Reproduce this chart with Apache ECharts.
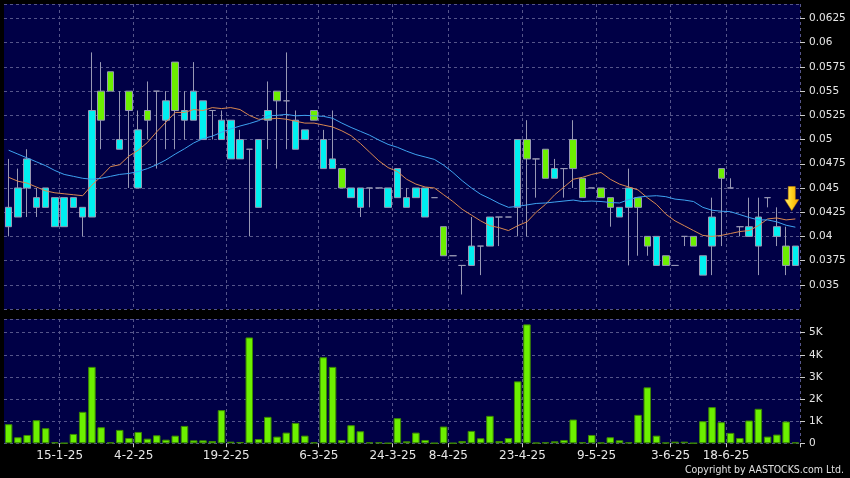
<!DOCTYPE html>
<html>
<head>
<meta charset="utf-8">
<script src="https://cdn.jsdelivr.net/npm/echarts/dist/echarts.min.js"></script>
<style>
html,body{margin:0;padding:0;background:#000;}
#chart{width:850px;height:478px;}
</style>
</head>
<body>
<div id="chart"></div>
<script>
// ---- data ----
const openP = [0.041,0.042,0.045,0.043,0.043,0.041,0.041,0.043,0.042,0.042,
  0.055,0.057,0.049,0.055,0.045,0.053,0.055,0.052,0.058,0.052,
  0.052,0.050,0.053,0.050,0.048,0.048,0.049,0.043,0.052,0.055,
  0.054,0.049,0.050,0.053,0.047,0.047,0.047,0.044,0.043,0.045,
  0.045,0.043,0.044,0.043,0.044,0.042,0.044,0.041,0.038,0.037,
  0.037,0.039,0.039,0.042,0.042,0.043,0.050,0.048,0.049,0.046,
  0.047,0.050,0.046,0.045,0.045,0.044,0.042,0.043,0.044,0.040,
  0.037,0.038,0.037,0.040,0.040,0.036,0.039,0.047,0.045,0.041,
  0.040,0.039,0.044,0.040,0.039,0.037];
const closeP = [0.043,0.045,0.048,0.044,0.045,0.044,0.044,0.044,0.043,0.053,
  0.052,0.055,0.050,0.053,0.051,0.052,0.055,0.054,0.053,0.053,
  0.055,0.054,0.053,0.052,0.052,0.050,0.049,0.050,0.053,0.054,
  0.054,0.052,0.051,0.052,0.050,0.048,0.045,0.045,0.045,0.045,
  0.045,0.045,0.047,0.044,0.045,0.045,0.044,0.038,0.038,0.037,
  0.039,0.039,0.042,0.042,0.042,0.050,0.048,0.048,0.046,0.047,
  0.047,0.047,0.044,0.045,0.044,0.043,0.043,0.045,0.043,0.039,
  0.040,0.037,0.037,0.040,0.039,0.038,0.042,0.046,0.045,0.041,
  0.041,0.042,0.044,0.041,0.037,0.039];
const lowP = [0.040,0.042,0.042,0.042,0.043,0.041,0.041,0.043,0.040,0.042,
  0.049,0.055,0.049,0.045,0.045,0.050,0.047,0.049,0.049,0.050,
  0.052,0.050,0.050,0.050,0.048,0.048,0.040,0.043,0.049,0.047,
  0.049,0.049,0.050,0.052,0.047,0.047,0.045,0.044,0.042,0.043,
  0.045,0.043,0.044,0.043,0.044,0.042,0.044,0.038,0.038,0.034,
  0.037,0.036,0.039,0.039,0.042,0.040,0.040,0.044,0.046,0.046,
  0.044,0.045,0.044,0.045,0.044,0.041,0.042,0.037,0.038,0.038,
  0.037,0.037,0.037,0.039,0.039,0.036,0.036,0.039,0.045,0.040,
  0.040,0.036,0.043,0.039,0.036,0.037];
const highP = [0.048,0.047,0.049,0.045,0.045,0.044,0.044,0.044,0.043,0.059,
  0.058,0.057,0.055,0.055,0.053,0.056,0.055,0.055,0.058,0.055,
  0.058,0.054,0.053,0.053,0.052,0.051,0.049,0.050,0.056,0.055,
  0.059,0.053,0.051,0.053,0.051,0.053,0.047,0.045,0.045,0.045,
  0.045,0.045,0.047,0.045,0.045,0.045,0.044,0.041,0.038,0.037,
  0.042,0.039,0.042,0.042,0.042,0.050,0.052,0.048,0.049,0.048,
  0.047,0.052,0.046,0.045,0.045,0.044,0.043,0.047,0.044,0.040,
  0.040,0.038,0.037,0.040,0.040,0.038,0.044,0.047,0.046,0.041,
  0.044,0.044,0.044,0.043,0.041,0.039];
const volume = [864,273,377,1045,682,45,10,423,1423,3455,
  727,40,605,240,514,210,362,165,347,786,
  135,135,104,1500,75,60,4786,195,1195,302,
  484,923,347,40,3891,3455,150,818,545,40,
  40,10,1136,90,484,150,10,758,10,104,
  560,227,1240,104,240,2800,5377,25,40,90,
  150,1075,45,377,30,273,136,40,1286,2530,
  347,30,75,75,10,1000,1636,955,470,240,
  1030,1560,303,394,985,40];
const ma10 = [0.0461,0.0457,0.0455,0.0451,0.0447,0.0445,0.0444,0.0443,0.0442,0.0453,
  0.0462,0.0472,0.0474,0.0483,0.0489,0.0497,0.0508,0.0518,0.0528,0.0528,
  0.0531,0.0530,0.0533,0.0532,0.0533,0.0531,0.0525,0.0521,0.0521,0.0522,
  0.0521,0.0519,0.0517,0.0517,0.0515,0.0513,0.0509,0.0504,0.0496,0.0487,
  0.0478,0.0471,0.0467,0.0459,0.0454,0.0451,0.0450,0.0443,0.0436,0.0428,
  0.0422,0.0416,0.0411,0.0409,0.0406,0.0411,0.0415,0.0425,0.0433,0.0443,
  0.0451,0.0459,0.0461,0.0464,0.0466,0.0459,0.0454,0.0451,0.0448,0.0440,
  0.0433,0.0423,0.0416,0.0411,0.0406,0.0401,0.0400,0.0401,0.0403,0.0405,
  0.0406,0.0411,0.0418,0.0419,0.0417,0.0418];
const ma20 = [0.0489,0.0485,0.0481,0.0477,0.0473,0.0468,0.0464,0.0462,0.0460,0.0459,
  0.0460,0.0462,0.0464,0.0465,0.0467,0.0470,0.0474,0.0479,0.0485,0.04905,
  0.04965,0.0501,0.05035,0.05075,0.0511,0.0514,0.05165,0.05195,0.05245,0.0525,
  0.0526,0.05245,0.0525,0.05245,0.0524,0.0522,0.0517,0.05125,0.05085,0.05045,
  0.04995,0.0495,0.0492,0.0488,0.04845,0.0482,0.04795,0.04735,0.0466,0.04575,
  0.0450,0.04435,0.0439,0.0434,0.0430,0.0431,0.04325,0.0434,0.04345,0.04355,
  0.04365,0.04375,0.0436,0.04365,0.0436,0.0435,0.04345,0.0438,0.04405,0.04415,
  0.0442,0.0441,0.04385,0.04375,0.0436,0.0430,0.0427,0.0426,0.04255,0.04225,
  0.04195,0.0417,0.0417,0.0415,0.04115,0.04095];
const tickIndex = [6,14,24,34,42,48,56,64,72,78];
const tickLabels = ['15-1-25','4-2-25','19-2-25','6-3-25','24-3-25','8-4-25','23-4-25','9-5-25','3-6-25','18-6-25'];
const arrowMark = [[85, 0.0439]];
const categories = openP.map((_, i) => 'd' + i);

// ---- chart ----
const labelMap = {};
tickIndex.forEach((k, j) => { labelMap[k] = tickLabels[j]; });
const showTick = (idx) => labelMap[idx] !== undefined;
const gridLine = { show: true, interval: showTick, lineStyle: { color: '#55558a', type: [3, 3], width: 1 } };
const hGrid = { show: true, lineStyle: { color: '#55558a', type: [3, 3], width: 1 } };
const labelFont = { color: '#e6e6e6', fontFamily: 'DejaVu Sans', fontSize: 10.5 };
const candleData = openP.map((o, i) => [o, closeP[i], lowP[i], highP[i]]);

const chart = echarts.init(document.getElementById('chart'), null, { renderer: 'canvas' });
chart.setOption({
  animation: false,
  backgroundColor: '#000000',
  grid: [
    { left: 4, right: 50, top: 4, height: 305, show: true, backgroundColor: '#000046', borderWidth: 0, outerBoundsMode: 'none' },
    { left: 4, right: 50, top: 319, height: 124.3, show: true, backgroundColor: '#000046', borderWidth: 0, outerBoundsMode: 'none' }
  ],
  xAxis: [
    { type: 'category', gridIndex: 0, data: categories, boundaryGap: true,
      axisLine: { show: false }, axisTick: { show: false }, axisLabel: { show: false },
      splitLine: gridLine },
    { type: 'category', gridIndex: 1, data: categories, boundaryGap: true,
      axisLine: { show: false },
      axisTick: { show: true, interval: showTick, length: 4, lineStyle: { color: '#cccccc' } },
      axisLabel: { show: true, interval: showTick, color: '#e6e6e6', fontFamily: 'DejaVu Sans', fontSize: 12,
        margin: 7, padding: [0, 9, 0, 0],
        formatter: (v, idx) => labelMap[idx] || '' },
      splitLine: gridLine }
  ],
  yAxis: [
    { type: 'value', gridIndex: 0, position: 'right', min: 0.0325, max: 0.064, interval: 0.0025,
      axisLine: { show: false },
      axisTick: { show: true, length: 5, lineStyle: { color: '#cccccc' } },
      axisLabel: Object.assign({ margin: 9, showMinLabel: false, showMaxLabel: false,
        formatter: (v) => String(+v.toFixed(4)) }, labelFont),
      splitLine: hGrid },
    { type: 'value', gridIndex: 1, position: 'right', min: 0, max: 5620, interval: 1000,
      axisLine: { show: false },
      axisTick: { show: true, length: 5, lineStyle: { color: '#cccccc' } },
      axisLabel: Object.assign({ margin: 9, showMaxLabel: false,
        formatter: (v) => v === 0 ? '0' : (v / 1000) + 'K' }, labelFont),
      splitLine: hGrid }
  ],
  series: [
    { type: 'candlestick', xAxisIndex: 0, yAxisIndex: 0, data: candleData, barWidth: 7,
      itemStyle: { color: '#00f0f0', color0: '#6cf000', borderColor: '#9898b4', borderColor0: '#9898b4',
        borderColorDoji: '#9898b4', borderWidth: 1 } },
    { type: 'line', xAxisIndex: 0, yAxisIndex: 0, data: ma10, symbol: 'none', smooth: false,
      lineStyle: { color: '#d98850', width: 1 } },
    { type: 'line', xAxisIndex: 0, yAxisIndex: 0, data: ma20, symbol: 'none', smooth: false,
      lineStyle: { color: '#3ea2f0', width: 1 } },
    { type: 'scatter', xAxisIndex: 0, yAxisIndex: 0, data: arrowMark, z: 10,
      symbol: 'path://M3.5,0 L10.5,0 L10.5,13 L14,13 L7,24 L0,13 L3.5,13 Z',
      symbolSize: [14, 24], symbolOffset: [-3.6, 0],
      itemStyle: { opacity: 1, color: new echarts.graphic.LinearGradient(0, 0, 1, 0, [
        { offset: 0, color: '#fff27a' }, { offset: 0.5, color: '#ffd21e' }, { offset: 1, color: '#f5a500' }]),
        borderColor: '#d89000', borderWidth: 0.5 } },
    { type: 'bar', xAxisIndex: 1, yAxisIndex: 1, data: volume, barWidth: 7.5,
      itemStyle: { color: '#6cf000', borderColor: '#3c8a00', borderWidth: 1 } }
  ],
  graphic: [
    { type: 'text', right: 6, top: 465,
      style: { text: 'Copyright by AASTOCKS.com Ltd.', fill: '#e0e0e0', font: '10.5px "DejaVu Sans Condensed", "DejaVu Sans"' } }
  ]
});
</script>
</body>
</html>
